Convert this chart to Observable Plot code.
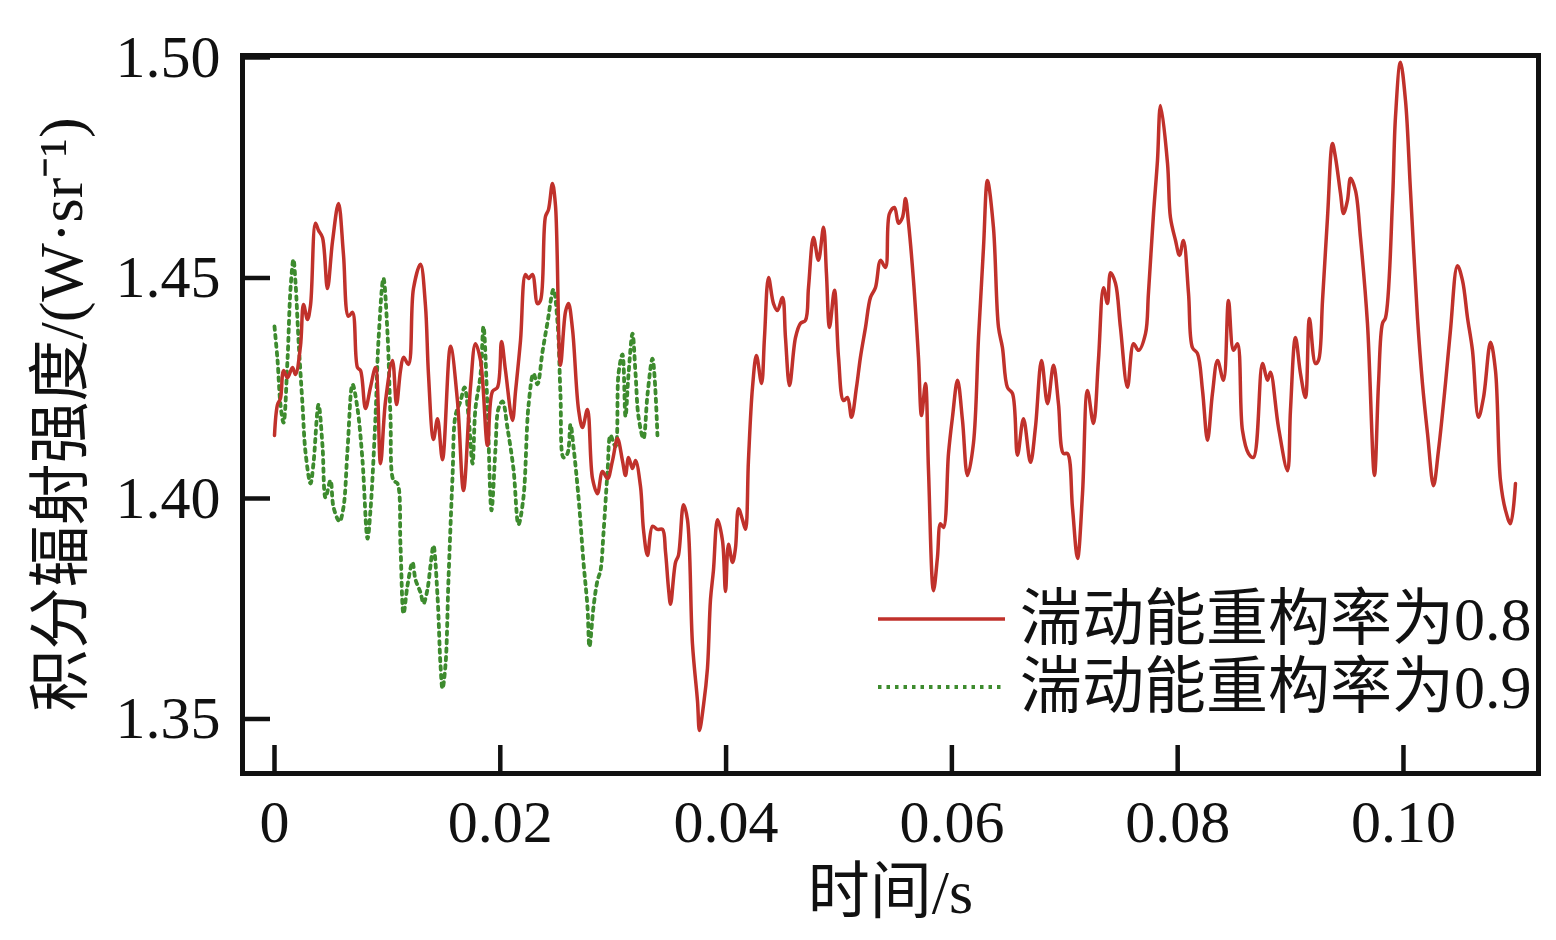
<!DOCTYPE html>
<html>
<head>
<meta charset="utf-8">
<script src="https://cdn.jsdelivr.net/npm/d3@7"></script>
<script src="https://cdn.jsdelivr.net/npm/@observablehq/plot@0.6"></script>
<style>
  html, body { margin: 0; padding: 0; background: #fff; }
  #wrap { position: relative; width: 1556px; height: 940px; }
  #legend { position: absolute; left: 878px; top: 585px; font-family: 'Liberation Serif', 'Noto Sans CJK SC', serif; font-size: 62px; color: #111; }
  .row { display: flex; align-items: center; height: 68px; }
  .row svg { display: block; margin-right: 15px; }
  .row span { line-height: 1; }
</style>
</head>
<body>
<div id="wrap"></div>
<script>
// ---- data (time in s, integrated radiance in W·sr^-1) ----
const redT = [
0.00000,0.00027,0.00053,0.00080,0.00115,0.00159,0.00186,0.00230,0.00257,0.00292,
0.00319,0.00363,0.00390,0.00425,0.00469,0.00514,0.00567,0.00611,0.00655,0.00691,
0.00735,0.00762,0.00806,0.00850,0.00895,0.00939,0.00983,0.01045,0.01081,0.01116,
0.01143,0.01187,0.01231,0.01293,0.01337,0.01364,0.01408,0.01444,0.01488,0.01559,
0.01621,0.01674,0.01736,0.01780,0.01825,0.01887,0.01931,0.01975,0.02011,0.02046,
0.02108,0.02135,0.02179,0.02223,0.02250,0.02285,0.02329,0.02356,0.02400,0.02427,
0.02462,0.02489,0.02533,0.02578,0.02604,0.02640,0.02693,0.02728,0.02772,0.02817,
0.02861,0.02905,0.02950,0.02994,0.03038,0.03082,0.03109,0.03136,0.03171,0.03198,
0.03242,0.03268,0.03304,0.03348,0.03392,0.03437,0.03463,0.03490,0.03508,0.03552,
0.03578,0.03623,0.03658,0.03702,0.03747,0.03764,0.03800,0.03835,0.03862,0.03888,
0.03924,0.03968,0.03995,0.04021,0.04057,0.04083,0.04110,0.04145,0.04172,0.04198,
0.04234,0.04269,0.04314,0.04340,0.04376,0.04420,0.04455,0.04500,0.04526,0.04562,
0.04615,0.04659,0.04703,0.04730,0.04774,0.04818,0.04863,0.04889,0.04916,0.04960,
0.04996,0.05040,0.05075,0.05111,0.05155,0.05190,0.05235,0.05279,0.05323,0.05368,
0.05412,0.05447,0.05492,0.05527,0.05562,0.05589,0.05616,0.05660,0.05704,0.05731,
0.05766,0.05793,0.05837,0.05872,0.05899,0.05926,0.05970,0.06005,0.06050,0.06094,
0.06138,0.06191,0.06236,0.06280,0.06315,0.06368,0.06413,0.06448,0.06492,0.06537,
0.06581,0.06634,0.06696,0.06740,0.06794,0.06847,0.06900,0.06944,0.06988,0.07024,
0.07068,0.07113,0.07157,0.07201,0.07254,0.07298,0.07343,0.07378,0.07405,0.07449,
0.07493,0.07555,0.07609,0.07653,0.07715,0.07741,0.07786,0.07821,0.07848,
0.07910,0.07936,0.07981,0.08016,0.08051,0.08096,0.08131,0.08175,0.08220,0.08264,
0.08308,0.08353,0.08406,0.08450,0.08494,0.08530,0.08574,0.08627,0.08671,0.08751,
0.08795,0.08822,0.08893,0.08973,0.08999,0.09043,0.09088,0.09132,0.09167,0.09220,
0.09247,0.09283,0.09327,0.09371,0.09398,0.09442,0.09469,0.09504,0.09531,0.09575,
0.09619,0.09681,0.09743,0.09779,0.09814,0.09841,0.09903,0.09929,0.09973,0.10018,
0.10062,0.10124,0.10168,0.10213,0.10266,0.10310,0.10372,0.10416,0.10478,0.10523,
0.10567,0.10611,0.10664,0.10709,0.10771,0.10815,0.10859,0.10904,0.10948,0.10992
];
const redV = [
1.4143,1.4213,1.4227,1.4290,1.4274,1.4297,1.4281,1.4345,1.4440,1.4406,
1.4438,1.4624,1.4608,1.4592,1.4476,1.4583,1.4669,1.4553,1.4413,1.4422,
1.4297,1.4290,1.4204,1.4252,1.4297,1.4079,1.4220,1.4313,1.4213,1.4290,
1.4320,1.4304,1.4476,1.4531,1.4438,1.4281,1.4134,1.4181,1.4088,1.4345,
1.4220,1.4018,1.4252,1.4351,1.4313,1.4120,1.4243,1.4252,1.4356,1.4290,
1.4177,1.4243,1.4358,1.4508,1.4499,1.4508,1.4442,1.4449,1.4639,1.4655,
1.4714,1.4664,1.4302,1.4424,1.4442,1.4383,1.4202,1.4161,1.4202,1.4045,
1.4011,1.4061,1.4045,1.4086,1.4136,1.4086,1.4052,1.4093,1.4068,1.4086,
1.4027,1.3930,1.3871,1.3937,1.3930,1.3930,1.3880,1.3796,1.3760,1.3855,
1.3871,1.3986,1.3952,1.3671,1.3540,1.3474,1.3531,1.3615,1.3771,1.3837,
1.3952,1.3905,1.3789,1.3896,1.3855,1.3887,1.3977,1.3952,1.3930,1.4086,
1.4252,1.4324,1.4261,1.4365,1.4501,1.4442,1.4426,1.4456,1.4365,1.4256,
1.4365,1.4397,1.4404,1.4478,1.4592,1.4540,1.4615,1.4510,1.4388,1.4472,
1.4320,1.4222,1.4229,1.4184,1.4252,1.4320,1.4388,1.4456,1.4478,1.4540,
1.4524,1.4646,1.4660,1.4624,1.4637,1.4680,1.4624,1.4494,1.4320,1.4188,
1.4261,1.4063,1.3791,1.3866,1.3943,1.3934,1.4102,1.4184,1.4268,1.4177,
1.4052,1.4125,1.4365,1.4569,1.4721,1.4615,1.4388,1.4342,1.4252,1.4238,
1.4098,1.4181,1.4082,1.4161,1.4313,1.4215,1.4302,1.4215,1.4102,1.4102,
1.3980,1.3864,1.4011,1.4245,1.4170,1.4313,1.4478,1.4442,1.4512,1.4488,
1.4388,1.4252,1.4351,1.4336,1.4374,1.4465,1.4646,1.4766,1.4891,
1.4760,1.4637,1.4585,1.4551,1.4585,1.4465,1.4342,1.4329,1.4245,1.4132,
1.4238,1.4313,1.4268,1.4449,1.4336,1.4351,1.4154,1.4102,1.4093,1.4306,
1.4268,1.4286,1.4161,1.4063,1.4200,1.4365,1.4283,1.4229,1.4408,1.4306,
1.4313,1.4449,1.4637,1.4805,1.4773,1.4692,1.4646,1.4676,1.4726,1.4698,
1.4592,1.4397,1.4052,1.4261,1.4397,1.4410,1.4676,1.4864,1.4989,1.4902,
1.4698,1.4410,1.4261,1.4147,1.4029,1.4109,1.4261,1.4381,1.4528,1.4494,
1.4410,1.4336,1.4184,1.4229,1.4354,1.4290,1.4041,1.3973,1.3943,1.4034
];
const greenT = [
0.00000,0.00027,0.00053,0.00080,0.00115,0.00142,0.00168,0.00186,0.00213,0.00248,
0.00275,0.00319,0.00345,0.00390,0.00425,0.00452,0.00496,0.00523,0.00576,0.00611,
0.00647,0.00691,0.00735,0.00779,0.00824,0.00850,0.00895,0.00921,0.00965,0.01001,
0.01027,0.01054,0.01089,0.01116,0.01143,0.01178,0.01222,0.01249,0.01293,0.01320,
0.01355,0.01382,0.01408,0.01444,0.01470,0.01488,0.01515,0.01541,0.01577,0.01603,
0.01647,0.01683,0.01718,0.01754,0.01780,0.01825,0.01851,0.01887,0.01922,0.01957,
0.01984,0.02020,0.02064,0.02117,0.02161,0.02205,0.02250,0.02294,0.02329,0.02374,
0.02418,0.02471,0.02507,0.02533,0.02560,0.02595,0.02622,0.02648,0.02693,0.02737,
0.02772,0.02790,0.02826,0.02861,0.02888,0.02914,0.02950,0.02976,0.03020,0.03047,
0.03082,0.03109,0.03136,0.03171,0.03198,0.03224,0.03268,0.03304,0.03348,0.03392
];
const greenV = [
1.4390,1.4313,1.4213,1.4172,1.4313,1.4476,1.4542,1.4490,1.4358,1.4213,
1.4104,1.4034,1.4079,1.4213,1.4120,1.4002,1.4041,1.3980,1.3948,1.3980,
1.4111,1.4259,1.4204,1.4088,1.3909,1.3973,1.4188,1.4358,1.4499,1.4374,
1.4188,1.4041,1.4034,1.3893,1.3739,1.3803,1.3855,1.3816,1.3787,1.3762,
1.3794,1.3848,1.3893,1.3778,1.3624,1.3569,1.3624,1.3816,1.4050,1.4188,
1.4220,1.4252,1.4188,1.4079,1.4204,1.4281,1.4390,1.4204,1.3973,1.4111,
1.4204,1.4220,1.4159,1.4066,1.3941,1.4002,1.4211,1.4283,1.4259,1.4333,
1.4399,1.4474,1.4399,1.4236,1.4093,1.4102,1.4168,1.4118,1.4002,1.3855,
1.3755,1.3664,1.3755,1.3814,1.3837,1.3921,1.4061,1.4143,1.4118,1.4283,
1.4327,1.4186,1.4283,1.4374,1.4283,1.4186,1.4136,1.4236,1.4317,1.4143
];
const xTicks = [0, 0.02, 0.04, 0.06, 0.08, 0.10];
const yTicks = [1.35, 1.40, 1.45, 1.50];
const seriesNames = ["湍动能重构率为0.8", "湍动能重构率为0.9"];
const xTitle = "时间/s";
const yTitle = "积分辐射强度/(W·sr⁻¹)";

const red = redT.map((t, i) => ({t, v: redV[i]}));
const green = greenT.map((t, i) => ({t, v: greenV[i]}));

const RED = "#c0312b", GREEN = "#3d8b2e";
const W = 1556, H = 940, mL = 242, mR = 18, mT = 55, mB = 167;
const plotW = W - mL - mR, plotH = H - mT - mB;
const FONT = "'Liberation Serif', 'Noto Sans CJK SC', serif";

const chart = Plot.plot({
  width: W, height: H,
  marginLeft: mL, marginRight: mR, marginTop: mT, marginBottom: mB,
  style: {fontFamily: FONT, fontSize: "60px", background: "#fff", color: "#111"},
  x: {domain: [-0.002834, 0.11196]},
  y: {domain: [1.33764, 1.50045]},
  marks: [
    Plot.line(green, {x: "t", y: "v", stroke: GREEN, strokeWidth: 3.8, strokeDasharray: "3.5,5", curve: "catmull-rom"}),
    Plot.line(red, {x: "t", y: "v", stroke: RED, strokeWidth: 3.5, curve: "catmull-rom"}),
    Plot.tickX(xTicks, {x: d => d, insetTop: plotH - 28, stroke: "#111", strokeWidth: 4.5}),
    Plot.tickY(yTicks, {y: d => d, insetRight: plotW - 28, stroke: "#111", strokeWidth: 4.5}),
    Plot.axisX(xTicks, {tickSize: 0, tickPadding: 26, fontSize: 60, label: null,
      tickFormat: d => d === 0 ? "0" : d.toFixed(2)}),
    Plot.axisY(yTicks, {tickSize: 0, tickPadding: 22, fontSize: 60, label: null,
      tickFormat: d => d.toFixed(2)}),
    Plot.frame({stroke: "#111", strokeWidth: 5}),
    Plot.text([yTitle], {text: d => d, frameAnchor: "left", rotate: -90, dx: -180, fontSize: 62, textAnchor: "middle", lineAnchor: "middle", fill: "#111"}),
    Plot.text([xTitle], {text: d => d, frameAnchor: "bottom", dy: 120, fontSize: 62, textAnchor: "middle", lineAnchor: "middle", fill: "#111"})
  ]
});

const wrap = document.getElementById("wrap");
wrap.appendChild(chart);

// legend
const legend = document.createElement("div");
legend.id = "legend";
const styles = [
  {stroke: RED, width: 3.5, dash: null},
  {stroke: GREEN, width: 3.8, dash: "3.5,5"}
];
seriesNames.forEach((name, i) => {
  const row = document.createElement("div");
  row.className = "row";
  const s = styles[i];
  row.innerHTML = `<svg width="127" height="10"><line x1="0" x2="127" y1="5" y2="5" stroke="${s.stroke}" stroke-width="${s.width}" ${s.dash ? `stroke-dasharray="${s.dash}"` : ""}/></svg><span>${name}</span>`;
  legend.appendChild(row);
});
wrap.appendChild(legend);
</script>
</body>
</html>
